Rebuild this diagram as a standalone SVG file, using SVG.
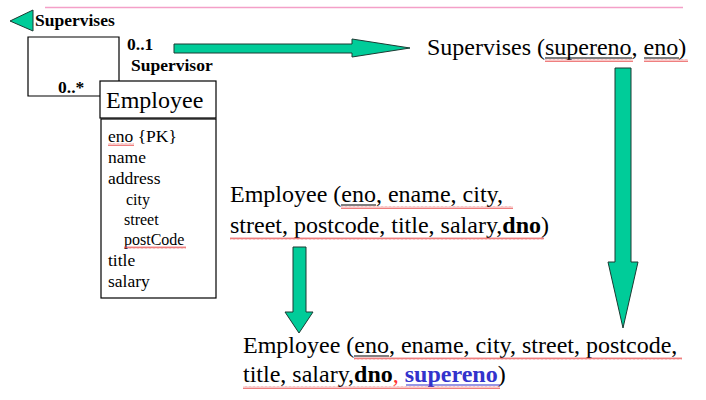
<svg xmlns="http://www.w3.org/2000/svg" width="706" height="400" viewBox="0 0 706 400">
<defs>
<pattern id="sq" width="4" height="3" patternUnits="userSpaceOnUse">
<path d="M0,2.5 L1,0.5 L2,2.5 L3,0.5 L4,2.5" fill="none" stroke="#e84848" stroke-width="0.7"/>
</pattern>
<style>
.serif{font-family:"Liberation Serif","Times New Roman",serif;fill:#000}
.bold{font-family:"Liberation Serif","Times New Roman",serif;font-weight:bold;fill:#000}
.box{fill:#fff;stroke:#000;stroke-width:1.2}
.arrow{fill:#00cc99;stroke:#1b3b33;stroke-width:1}
.ul{stroke:#000;stroke-width:1.2}
.wave{fill:url(#sq)}
</style>
</defs>
<rect width="706" height="400" fill="#fff"/>
<line x1="45" y1="7.5" x2="683" y2="7.5" stroke="#f4a0c8" stroke-width="1.5"/>

<g id="connectors">
<polygon class="arrow" points="10,21 33,10 33,31"/>
<path d="M100,96 H28 V37 H119 V81" fill="none" stroke="#000" stroke-width="1.2"/>
<polygon class="arrow" points="174,44 352,44 352,39 410,48 352,57 352,53 174,53"/>
<polygon class="arrow" points="615,68 631,68 631,262 638,262 623,328 608,262 615,262"/>
<polygon class="arrow" points="293,247 306,247 306,312 313,312 299,333 285,312 293,312"/>
</g>

<g id="assoc-labels">
<text class="bold" x="35" y="26" font-size="17.5">Supervises</text>
<text class="bold" x="127" y="50" font-size="17.5">0..1</text>
<text class="bold" x="131" y="71" font-size="17.5">Supervisor</text>
<text class="bold" x="58" y="93" font-size="17.5">0..*</text>
</g>

<g id="employee-class">
<rect class="box" x="100" y="81" width="116" height="37"/>
<text class="serif" x="106" y="108" font-size="24">Employee</text>
<rect class="box" x="101" y="119" width="115" height="179"/>
<g class="serif" font-size="17.5">
<text x="108" y="142">eno {PK}</text>
<text x="108" y="163">name</text>
<text x="108" y="184">address</text>
<text x="126" y="205" font-size="16">city</text>
<text x="124" y="225" font-size="16">street</text>
<text x="124" y="245" font-size="16">postCode</text>
<text x="108" y="266">title</text>
<text x="108" y="287">salary</text>
</g>
<rect class="wave" x="108" y="143" width="26" height="3"/>
<rect class="wave" x="124" y="246" width="62" height="3"/>
</g>

<g id="supervises-relation">
<text class="serif" x="427" y="55" font-size="24">Supervises (supereno, eno)</text>
<line class="ul" x1="545" y1="58" x2="632" y2="58"/>
<line class="ul" x1="644" y1="58" x2="679" y2="58"/>
<rect class="wave" x="545" y="59" width="88" height="3"/>
<rect class="wave" x="644" y="59" width="44" height="3"/>
</g>

<g id="employee-relation">
<text class="serif" x="230" y="202" font-size="24">Employee (eno, ename, city,</text>
<text class="serif" x="230" y="233" font-size="24">street, postcode, title, salary,<tspan font-weight="bold">dno</tspan>)</text>
<line class="ul" x1="341" y1="205" x2="376" y2="205"/>
<rect class="wave" x="341" y="206" width="172" height="3"/>
<rect class="wave" x="230" y="237" width="314" height="3"/>
</g>

<g id="employee-final">
<text class="serif" x="243" y="353" font-size="24">Employee (eno, ename, city, street, postcode,</text>
<text class="serif" x="243" y="382" font-size="24">title, salary,<tspan font-weight="bold">dno</tspan><tspan fill="#ff3333">, </tspan><tspan font-weight="bold" fill="#3333cc">supereno</tspan>)</text>
<line class="ul" x1="354" y1="356" x2="389" y2="356"/>
<line x1="406" y1="385" x2="500" y2="385" stroke="#3333cc" stroke-width="1.2"/>
<rect class="wave" x="354" y="357" width="328" height="3"/>
<rect class="wave" x="243" y="386" width="257" height="3"/>
</g>
</svg>
